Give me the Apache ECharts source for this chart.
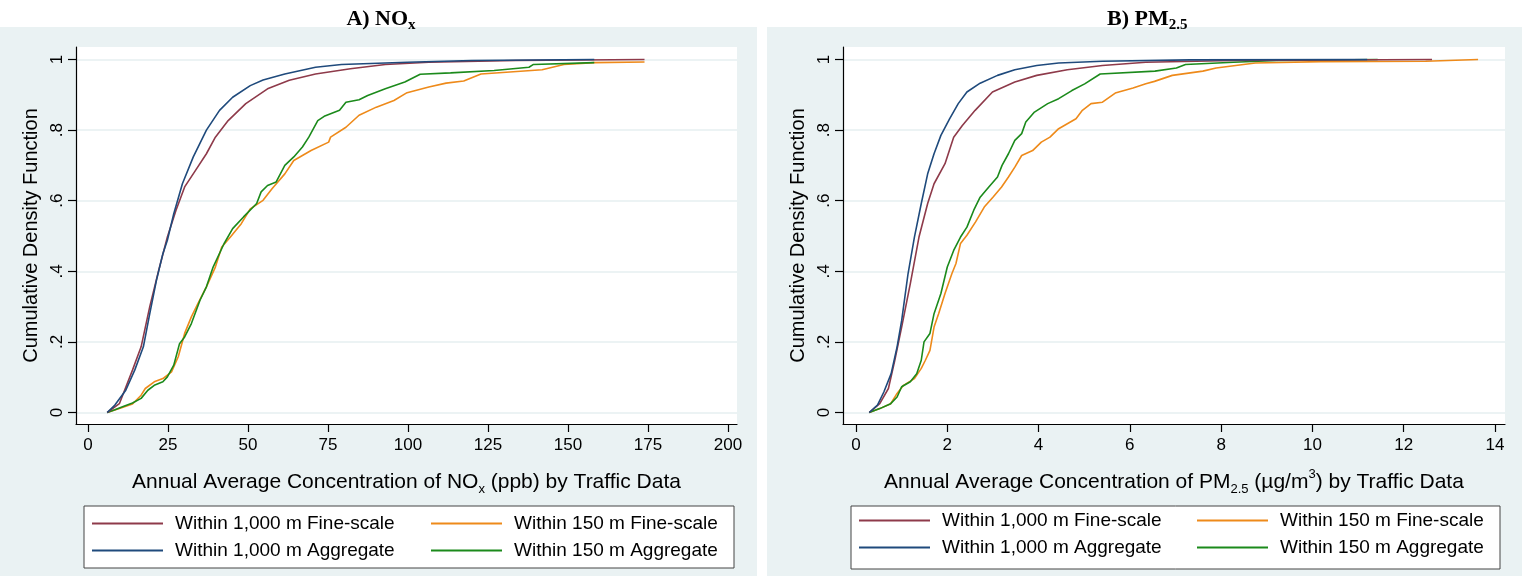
<!DOCTYPE html>
<html style="height: 100%">
<head>
<meta charset="utf-8">
<style>
  body { margin: 0; background: #fff; }
  #left, #right { position: absolute; top: 0; height: 576px; }
  #left { left: 0; width: 762px; }
  #right { left: 762px; width: 760px; }
</style>
</head>
<body>
<div id="left"></div>
<div id="right"></div>
<script src="https://cdn.jsdelivr.net/npm/echarts@6/dist/echarts.min.js"></script>
<script>
// series names
var names = ['Within 1,000 m Fine-scale', 'Within 1,000 m Aggregate',
             'Within 150 m Fine-scale', 'Within 150 m Aggregate'];
var colors = ['#8e3a4a', '#1f4a7c', '#ee8a1a', '#1b8a1b'];

// A) NOx, [ppb, cdf]
var noxFine1000 = [[6,0],[9.8,0.025],[13.9,0.12],[16.6,0.186],[19.3,0.3],[22.1,0.403],[24.8,0.497],
  [27.5,0.573],[30.2,0.639],[33.6,0.686],[37,0.733],[39.8,0.78],[43.8,0.827],[49.3,0.875],[56.1,0.917],
  [62.9,0.941],[71.1,0.959],[82,0.974],[92.9,0.986],[106.5,0.992],[133.7,0.997],[173.9,1]];
var noxAgg1000 = [[6,0],[8.4,0.021],[11.8,0.063],[14.6,0.12],[17.3,0.186],[19.3,0.28],[21.4,0.375],
  [23.4,0.45],[24.8,0.488],[26.8,0.563],[29.5,0.648],[32.9,0.724],[37,0.8],[41.1,0.856],[45.2,0.893],
  [50.7,0.926],[54.7,0.942],[61.5,0.959],[71.1,0.978],[79.2,0.986],[99.7,0.992],[120,0.997],[158.2,1]];
var noxFine150 = [[6,0],[9.8,0.011],[13.9,0.024],[16.6,0.049],[17.9,0.068],[20.7,0.087],[23.4,0.096],
  [26.1,0.115],[28.2,0.158],[30.2,0.224],[32.3,0.271],[34.3,0.308],[37,0.356],[39.8,0.412],[41.8,0.469],
  [44.5,0.497],[47.9,0.535],[50.7,0.577],[54.7,0.601],[57.5,0.634],[61.5,0.676],[64.3,0.714],[69.7,0.742],
  [75.2,0.766],[75.8,0.78],[80.6,0.808],[84.7,0.842],[90.1,0.865],[95.6,0.884],[99.7,0.906],[106.5,0.922],
  [111.9,0.933],[117.4,0.939],[122.8,0.959],[141.9,0.971],[148.7,0.986],[158.2,0.991],[173.9,0.993]];
var noxAgg150 = [[6,0],[8.4,0.008],[11.2,0.018],[13.9,0.027],[16.6,0.04],[18.7,0.063],[20.7,0.077],
  [23.4,0.087],[24.8,0.101],[26.8,0.134],[28.6,0.195],[30.2,0.214],[32.3,0.252],[35,0.318],[37,0.356],
  [39.1,0.412],[42.5,0.478],[45.2,0.521],[48.6,0.554],[52.7,0.592],[54.1,0.625],[56.1,0.643],[58.8,0.653],
  [61.5,0.7],[64.3,0.724],[67,0.752],[69,0.78],[71.8,0.827],[73.8,0.839],[78.6,0.856],[80.6,0.879],
  [84.7,0.886],[87.4,0.898],[92.9,0.917],[99,0.936],[103.8,0.958],[113.3,0.962],[126.9,0.969],
  [137.8,0.978],[139.2,0.986],[158.2,0.991]];

// B) PM2.5, [ug/m3, cdf]
var pmFine1000 = [[0.29,0],[0.52,0.025],[0.71,0.068],[0.85,0.148],[1,0.242],[1.19,0.365],[1.38,0.497],
  [1.57,0.592],[1.71,0.648],[1.95,0.705],[2.14,0.78],[2.33,0.813],[2.61,0.856],[2.99,0.908],[3.48,0.936],
  [3.96,0.955],[4.63,0.971],[5.4,0.983],[6.35,0.992],[8.27,0.997],[12.62,1]];
var pmAgg1000 = [[0.29,0],[0.47,0.021],[0.61,0.058],[0.77,0.11],[0.9,0.186],[1,0.26],[1.14,0.393],
  [1.28,0.497],[1.43,0.592],[1.57,0.676],[1.71,0.733],[1.86,0.785],[2.05,0.832],[2.24,0.875],[2.43,0.908],
  [2.72,0.933],[3.1,0.955],[3.48,0.971],[3.96,0.983],[4.44,0.99],[5.4,0.995],[7.31,0.999],[11.2,1]];
var pmFine150 = [[0.29,0],[0.52,0.011],[0.76,0.025],[0.9,0.054],[1.04,0.077],[1.28,0.096],[1.43,0.125],
  [1.52,0.148],[1.62,0.176],[1.71,0.242],[1.81,0.28],[1.95,0.337],[2.1,0.393],[2.19,0.422],[2.29,0.479],
  [2.43,0.502],[2.62,0.54],[2.81,0.582],[3,0.61],[3.19,0.639],[3.34,0.667],[3.48,0.695],[3.63,0.728],
  [3.87,0.742],[4.06,0.766],[4.25,0.78],[4.44,0.804],[4.63,0.818],[4.82,0.832],[4.96,0.856],[5.15,0.875],
  [5.4,0.879],[5.68,0.905],[6.07,0.919],[6.35,0.931],[6.54,0.938],[6.93,0.955],[7.6,0.967],[7.89,0.976],
  [8.75,0.99],[10.18,0.994],[12.48,0.995],[13.63,1]];
var pmAgg150 = [[0.29,0],[0.52,0.011],[0.76,0.025],[0.9,0.044],[1,0.073],[1.19,0.087],[1.33,0.11],
  [1.43,0.148],[1.49,0.2],[1.62,0.224],[1.71,0.28],[1.86,0.337],[2,0.412],[2.14,0.459],[2.29,0.497],
  [2.43,0.525],[2.58,0.573],[2.72,0.61],[2.91,0.639],[3.1,0.667],[3.2,0.7],[3.34,0.733],[3.48,0.771],
  [3.63,0.79],[3.72,0.823],[3.91,0.851],[4.2,0.875],[4.44,0.889],[4.73,0.912],[5.01,0.931],[5.35,0.959],
  [6.55,0.967],[7.02,0.976],[7.22,0.986],[8.27,0.992],[9.22,0.997],[11.43,1]];

var noxTicks = [0, 25, 50, 75, 100, 125, 150, 175, 200];
var pmTicks = [0, 2, 4, 6, 8, 10, 12, 14];
var cdfTicks = [0, 0.2, 0.4, 0.6, 0.8, 1];

var sans = 'Liberation Sans';
var bg = '#eaf2f3';

function makePanel(dom, p) {
  var chart = echarts.init(dom);
  var data = [p.fine1000, p.agg1000, p.fine150, p.agg150];
  var series = names.map(function (n, i) {
    return {
      name: n, type: 'line', data: data[i], showSymbol: false,
      lineStyle: { color: colors[i], width: 1.6 }, itemStyle: { color: colors[i] },
      z: [3, 4, 2, 2.5][i]
    };
  });
  var legendText = { color: '#000', fontFamily: sans, fontSize: 19, padding: [0, 0, 0, 7] };
  chart.setOption({
    animation: false,
    title: {
      text: p.title, left: p.titleLeft, top: 0,
      textStyle: {
        rich: {
          t: { fontFamily: 'Liberation Serif', fontWeight: 'bold', fontSize: 22, color: '#000' },
          s: { fontFamily: 'Liberation Serif', fontWeight: 'bold', fontSize: 15, color: '#000',
               verticalAlign: 'bottom', lineHeight: 28 }
        }
      }
    },
    graphic: [
      { type: 'rect', z: -10, shape: p.bgRect, style: { fill: bg } },
      { type: 'rect', z: 1, shape: p.boxRect, style: { fill: '#fff', stroke: '#444', lineWidth: 1 } }
    ],
    legend: [
      { orient: 'vertical', left: p.col1, top: p.legTop, padding: 0, itemWidth: 71, itemHeight: 2,
        icon: 'rect', itemGap: 8, data: [names[0], names[1]], textStyle: legendText, selectedMode: false },
      { orient: 'vertical', left: p.col2, top: p.legTop, padding: 0, itemWidth: 71, itemHeight: 2,
        icon: 'rect', itemGap: 8, data: [names[2], names[3]], textStyle: legendText, selectedMode: false }
    ],
    grid: {
      left: p.gridLeft, right: p.gridRight, top: 47, bottom: 152,
      show: true, backgroundColor: '#fff', borderWidth: 0
    },
    xAxis: {
      type: 'value', min: p.xMin, max: p.xMax,
      name: p.xName, nameLocation: 'middle', nameGap: 44,
      nameTextStyle: {
        rich: {
          t: { fontFamily: sans, fontSize: 21, color: '#000' },
          s: { fontFamily: sans, fontSize: 13, color: '#000', verticalAlign: 'bottom', lineHeight: 28 },
          u: { fontFamily: sans, fontSize: 13, color: '#000', verticalAlign: 'top', lineHeight: 28 }
        }
      },
      axisLine: { onZero: false, lineStyle: { color: '#000', width: 1.2 } },
      axisTick: { customValues: p.xTicks, length: 8, lineStyle: { color: '#000', width: 1.2 } },
      axisLabel: { customValues: p.xTicks, color: '#000', fontFamily: sans, fontSize: 17, margin: 13 },
      splitLine: { show: false }
    },
    yAxis: {
      type: 'value', min: -0.0326, max: 1.0354,
      name: 'Cumulative Density Function', nameLocation: 'middle', nameGap: 28,
      nameTextStyle: { fontFamily: sans, fontSize: 20, color: '#000' },
      axisLine: { show: true, onZero: false, lineStyle: { color: '#000', width: 1.2 } },
      axisTick: { show: true, customValues: cdfTicks, length: 8, lineStyle: { color: '#000', width: 1.2 } },
      axisLabel: {
        customValues: cdfTicks, rotate: 90, color: '#000', fontFamily: sans, fontSize: 17, margin: 10,
        formatter: function (v) {
          if (v === 0) return '0';
          if (v === 1) return '1';
          return '.' + Math.round(v * 10);
        }
      },
      splitLine: { show: true, lineStyle: { color: '#e6eff1', width: 1.5 } }
    },
    series: series
  });
  return chart;
}

makePanel(document.getElementById('left'), {
  title: '{t|A) NO}{s|x}', titleLeft: 'center',
  xName: '{t|Annual Average Concentration of NO}{s|x}{t| (ppb) by Traffic Data}',
  fine1000: noxFine1000, agg1000: noxAgg1000, fine150: noxFine150, agg150: noxAgg150,
  xTicks: noxTicks, xMin: -3.75, xMax: 202.8,
  gridLeft: 76, gridRight: 25,
  bgRect: { x: 0, y: 27, width: 757, height: 549 },
  boxRect: { x: 84, y: 506, width: 650, height: 62 },
  col1: 92, col2: 431, legTop: 514
});

makePanel(document.getElementById('right'), {
  title: '{t|B) PM}{s|2.5}', titleLeft: 340,
  xName: '{t|Annual Average Concentration of PM}{s|2.5}{t| (µg/m}{u|3}{t|) by Traffic Data}',
  fine1000: pmFine1000, agg1000: pmAgg1000, fine150: pmFine150, agg150: pmAgg150,
  xTicks: pmTicks, xMin: -0.285, xMax: 14.22,
  gridLeft: 81, gridRight: 17,
  bgRect: { x: 5, y: 27, width: 755, height: 549 },
  boxRect: { x: 89, y: 506, width: 649, height: 63 },
  col1: 97, col2: 435, legTop: 511
});
</script>
</body>
</html>
